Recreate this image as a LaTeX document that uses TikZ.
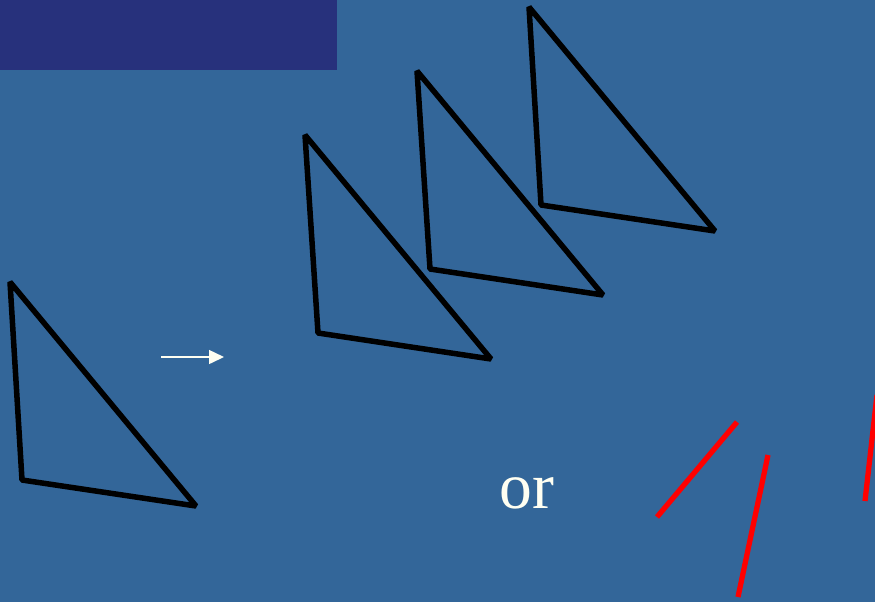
\documentclass[tikz,border=0pt]{standalone}
\usepackage{fontspec}
\setmainfont{Liberation Serif}
\usetikzlibrary{arrows.meta}
\definecolor{SlideBlue}{HTML}{336699}
\definecolor{SlideNavy}{HTML}{27317C}
\definecolor{ArrowWhite}{HTML}{FFFFF2}
\definecolor{CutRed}{HTML}{FF0000}
\begin{document}
\begin{tikzpicture}[
  x=0.03cm,y=-0.03cm,
  tri/.style={
    line width=4.7pt,
    draw=black,
    line join=bevel
  },
  cut/.style={
    line width=4.5pt,
    draw=CutRed
  },
  move/.style={
    -{Triangle[length=4.5mm,width=4.2mm]},
    line width=1.3pt,
    draw=ArrowWhite
  },
  word/.style={
    text=ArrowWhite,
    font=\fontsize{56}{60}\selectfont,
    inner sep=0pt
  }
]

% -------------------------------------------------
% Background and title bar
% -------------------------------------------------
\fill[SlideBlue] (0,0) rectangle (875,602);
\useasboundingbox (0,0) rectangle (875,602);
\clip (0,0) rectangle (875,602);
\fill[SlideNavy] (0,0) rectangle (337,70);

% -------------------------------------------------
% Original triangle
% -------------------------------------------------
\coordinate (t0a) at (10,282);
\coordinate (t0b) at (22,480);
\coordinate (t0c) at (196,506);
\draw[tri] (t0a) -- (t0b) -- (t0c) -- cycle;

% -------------------------------------------------
% Arrow
% -------------------------------------------------
\coordinate (arrfrom) at (161,357);
\coordinate (arrto) at (224,357);
\draw[move] (arrfrom) -- (arrto);

% -------------------------------------------------
% Translated copies
% -------------------------------------------------
\coordinate (t1a) at (305,135);
\coordinate (t1b) at (318,333);
\coordinate (t1c) at (491,359);
\draw[tri] (t1a) -- (t1b) -- (t1c) -- cycle;

\coordinate (t2a) at (417,71);
\coordinate (t2b) at (430,269);
\coordinate (t2c) at (603,295);
\draw[tri] (t2a) -- (t2b) -- (t2c) -- cycle;

\coordinate (t3a) at (529,7);
\coordinate (t3b) at (541,205);
\coordinate (t3c) at (715,231);
\draw[tri] (t3a) -- (t3b) -- (t3c) -- cycle;

% -------------------------------------------------
% "or" and the red segments
% -------------------------------------------------
\node[word] (orword) at (527,493) {or};

\coordinate (r1a) at (657,517);
\coordinate (r1b) at (737,422);
\draw[cut] (r1a) -- (r1b);

\coordinate (r2a) at (738,597);
\coordinate (r2b) at (768,455);
\draw[cut] (r2a) -- (r2b);

\coordinate (r3a) at (865,501);
\coordinate (r3b) at (877,395);
\draw[cut] (r3a) -- (r3b);

\end{tikzpicture}
\end{document}
